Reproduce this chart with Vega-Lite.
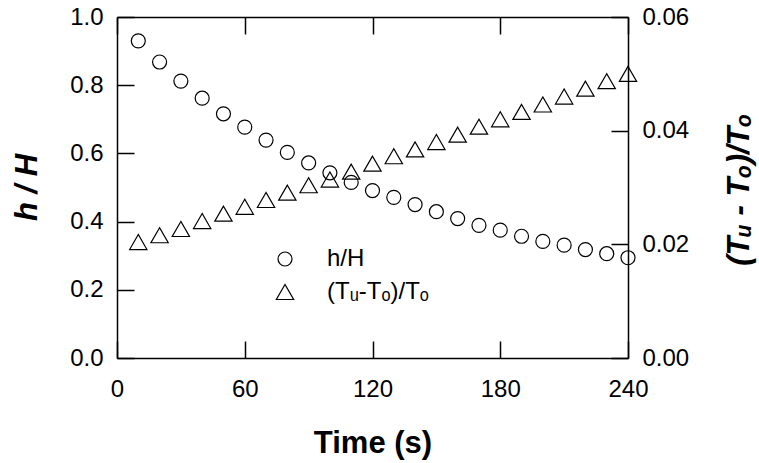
{
  "$schema": "https://vega.github.io/schema/vega-lite/v6.json",
  "width": 511,
  "height": 341,
  "autosize": "none",
  "padding": {"left": 117, "top": 17, "right": 131, "bottom": 105},
  "background": "white",
  "config": {
    "view": {"stroke": null},
    "font": "Liberation Sans",
    "axis": {
      "grid": false,
      "domainColor": "black",
      "domainWidth": 1.5,
      "tickColor": "black",
      "tickWidth": 1.5,
      "tickSize": -17,
      "labelFontSize": 24,
      "labelColor": "black",
      "labelFont": "Liberation Sans",
      "labelFlush": false,
      "labelOverlap": false,
      "labelBound": false,
      "titleFont": "Liberation Sans",
      "titleColor": "black",
      "titleFontWeight": "bold",
      "titleFontSize": 31
    },
    "legend": {
      "labelFont": "Liberation Sans",
      "labelFontSize": 24,
      "labelColor": "black"
    }
  },
  "datasets": {
    "h": [
      {"time": 10, "value": 0.930, "series": "h/H"},
      {"time": 20, "value": 0.868, "series": "h/H"},
      {"time": 30, "value": 0.812, "series": "h/H"},
      {"time": 40, "value": 0.762, "series": "h/H"},
      {"time": 50, "value": 0.716, "series": "h/H"},
      {"time": 60, "value": 0.677, "series": "h/H"},
      {"time": 70, "value": 0.639, "series": "h/H"},
      {"time": 80, "value": 0.603, "series": "h/H"},
      {"time": 90, "value": 0.572, "series": "h/H"},
      {"time": 100, "value": 0.543, "series": "h/H"},
      {"time": 110, "value": 0.515, "series": "h/H"},
      {"time": 120, "value": 0.491, "series": "h/H"},
      {"time": 130, "value": 0.471, "series": "h/H"},
      {"time": 140, "value": 0.450, "series": "h/H"},
      {"time": 150, "value": 0.429, "series": "h/H"},
      {"time": 160, "value": 0.409, "series": "h/H"},
      {"time": 170, "value": 0.389, "series": "h/H"},
      {"time": 180, "value": 0.375, "series": "h/H"},
      {"time": 190, "value": 0.357, "series": "h/H"},
      {"time": 200, "value": 0.342, "series": "h/H"},
      {"time": 210, "value": 0.331, "series": "h/H"},
      {"time": 220, "value": 0.318, "series": "h/H"},
      {"time": 230, "value": 0.306, "series": "h/H"},
      {"time": 240, "value": 0.294, "series": "h/H"}
    ],
    "t": [
      {"time": 10, "value": 0.0204, "series": "(Tᵤ-Tₒ)/Tₒ"},
      {"time": 20, "value": 0.0216, "series": "(Tᵤ-Tₒ)/Tₒ"},
      {"time": 30, "value": 0.0227, "series": "(Tᵤ-Tₒ)/Tₒ"},
      {"time": 40, "value": 0.0241, "series": "(Tᵤ-Tₒ)/Tₒ"},
      {"time": 50, "value": 0.0254, "series": "(Tᵤ-Tₒ)/Tₒ"},
      {"time": 60, "value": 0.0266, "series": "(Tᵤ-Tₒ)/Tₒ"},
      {"time": 70, "value": 0.0278, "series": "(Tᵤ-Tₒ)/Tₒ"},
      {"time": 80, "value": 0.0291, "series": "(Tᵤ-Tₒ)/Tₒ"},
      {"time": 90, "value": 0.0304, "series": "(Tᵤ-Tₒ)/Tₒ"},
      {"time": 100, "value": 0.0314, "series": "(Tᵤ-Tₒ)/Tₒ"},
      {"time": 110, "value": 0.0328, "series": "(Tᵤ-Tₒ)/Tₒ"},
      {"time": 120, "value": 0.0342, "series": "(Tᵤ-Tₒ)/Tₒ"},
      {"time": 130, "value": 0.0355, "series": "(Tᵤ-Tₒ)/Tₒ"},
      {"time": 140, "value": 0.0367, "series": "(Tᵤ-Tₒ)/Tₒ"},
      {"time": 150, "value": 0.0380, "series": "(Tᵤ-Tₒ)/Tₒ"},
      {"time": 160, "value": 0.0393, "series": "(Tᵤ-Tₒ)/Tₒ"},
      {"time": 170, "value": 0.0407, "series": "(Tᵤ-Tₒ)/Tₒ"},
      {"time": 180, "value": 0.0420, "series": "(Tᵤ-Tₒ)/Tₒ"},
      {"time": 190, "value": 0.0433, "series": "(Tᵤ-Tₒ)/Tₒ"},
      {"time": 200, "value": 0.0446, "series": "(Tᵤ-Tₒ)/Tₒ"},
      {"time": 210, "value": 0.0460, "series": "(Tᵤ-Tₒ)/Tₒ"},
      {"time": 220, "value": 0.0474, "series": "(Tᵤ-Tₒ)/Tₒ"},
      {"time": 230, "value": 0.0487, "series": "(Tᵤ-Tₒ)/Tₒ"},
      {"time": 240, "value": 0.0500, "series": "(Tᵤ-Tₒ)/Tₒ"}
    ]
  },
  "layer": [
    {
      "data": {"name": "h"},
      "mark": {"type": "point", "filled": false, "stroke": "black", "strokeWidth": 1.2, "opacity": 1},
      "encoding": {
        "x": {
          "field": "time", "type": "quantitative",
          "scale": {"domain": [0, 240], "nice": false},
          "axis": {"orient": "bottom", "values": [0, 60, 120, 180, 240], "title": "Time (s)",
                   "labelPadding": 36, "titleX": 255.5, "titleY": 85, "titleBaseline": "middle"}
        },
        "y": {
          "field": "value", "type": "quantitative",
          "scale": {"domain": [0, 1], "nice": false},
          "axis": {"orient": "left", "values": [0, 0.2, 0.4, 0.6, 0.8, 1.0], "format": ".1f",
                   "title": "h / H", "titleFontStyle": "italic", "labelPadding": 31,
                   "titleX": -90, "titleY": 170, "titleBaseline": "middle", "titleAngle": -90}
        },
        "shape": {
          "field": "series", "type": "nominal",
          "scale": {"domain": ["h/H", "(Tᵤ-Tₒ)/Tₒ"], "range": ["circle", "triangle-up"]},
          "legend": {"orient": "none", "legendX": 156, "legendY": 230, "title": null,
                     "labelOffset": 30, "rowPadding": 9, "padding": 0,
                     "symbolStrokeColor": "black", "symbolStrokeWidth": 1.2}
        },
        "size": {
          "field": "series", "type": "nominal",
          "scale": {"domain": ["h/H", "(Tᵤ-Tₒ)/Tₒ"], "range": [196, 300]},
          "legend": {"orient": "none", "legendX": 156, "legendY": 230, "title": null,
                     "labelOffset": 30, "rowPadding": 9, "padding": 0,
                     "symbolStrokeColor": "black", "symbolStrokeWidth": 1.2}
        }
      }
    },
    {
      "data": {"name": "t"},
      "mark": {"type": "point", "filled": false, "stroke": "black", "strokeWidth": 1.2, "opacity": 1},
      "encoding": {
        "x": {
          "field": "time", "type": "quantitative",
          "scale": {"domain": [0, 240], "nice": false},
          "axis": {"orient": "top", "values": [0, 60, 120, 180, 240], "labels": false, "title": null}
        },
        "y": {
          "field": "value", "type": "quantitative",
          "scale": {"domain": [0, 0.06], "nice": false},
          "axis": {"orient": "right", "values": [0, 0.02, 0.04, 0.06], "format": ".2f",
                   "title": "(Tᵤ - Tₒ)/Tₒ", "titleFontStyle": "italic", "labelPadding": 31,
                   "titleX": 111, "titleY": 172, "titleBaseline": "middle", "titleAngle": -90}
        },
        "shape": {"field": "series", "type": "nominal"},
        "size": {"field": "series", "type": "nominal"}
      }
    }
  ],
  "resolve": {"scale": {"y": "independent"}, "axis": {"x": "independent"}}
}
